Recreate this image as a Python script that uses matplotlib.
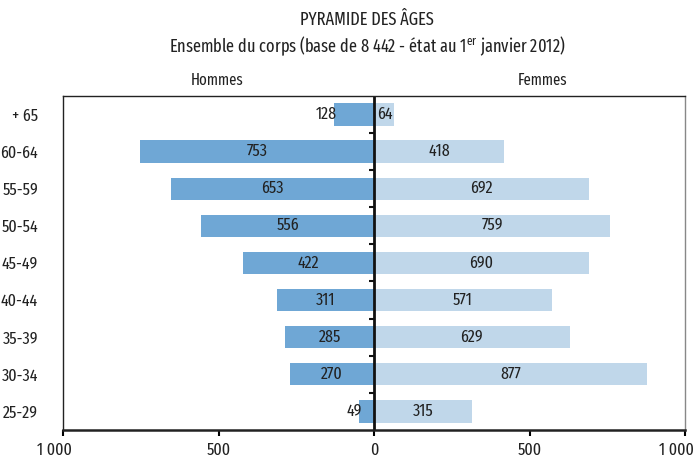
import matplotlib.pyplot as plt
from matplotlib import font_manager as fm
from matplotlib.transforms import ScaledTranslation
import numpy as np

ages = ['+ 65', '60-64', '55-59', '50-54', '45-49', '40-44', '35-39', '30-34', '25-29']
hommes = [128, 753, 653, 556, 422, 311, 285, 270, 49]
femmes = [64, 418, 692, 759, 690, 571, 629, 877, 315]
xticks = [-1000, -500, 0, 500, 1000]
xtick_labels = ['1 000', '500', '0', '500', '1 000']


def narrowness(f):
    n = f.name.replace(' ', '')
    if 'ExtraCondensed' in n or 'UltraCondensed' in n:
        return 0
    if 'Condensed' in n and 'Semi' not in n:
        return 1
    if 'Narrow' in n or f.stretch == 'condensed':
        return 2
    return 3


# pick the narrowest regular face installed
cands = [f for f in fm.fontManager.ttflist
         if f.style == 'normal' and f.weight in (400, 'normal', 'regular')
         and (f.stretch != 'normal' or 'Condensed' in f.name or 'Narrow' in f.name)]
cands.sort(key=narrowness)
if cands:
    plt.rcParams['font.family'] = [cands[0].name, 'DejaVu Sans']
    plt.rcParams['font.stretch'] = cands[0].stretch
else:
    plt.rcParams['font.family'] = ['Liberation Sans', 'DejaVu Sans']

fs = 12.5
c_h = '#6fa7d5'
c_f = '#c0d7ea'
txt = '#222222'

fig = plt.figure(figsize=(6.97, 4.59), dpi=100)
ax = fig.add_axes([0.0904, 0.0632, 0.8924, 0.728])

y = np.arange(len(ages))
ax.barh(y, [-v for v in hommes], height=0.6, color=c_h)
ax.barh(y, femmes, height=0.6, color=c_f)

for i, (h, f) in enumerate(zip(hommes, femmes)):
    if h > 150:
        ax.text(-h / 2, i, str(h), ha='center', va='center', fontsize=fs, color=txt)
    else:
        ax.annotate(str(h), (-h, i), xytext=(2, 0), textcoords='offset points',
                    ha='right', va='center', fontsize=fs, color=txt)
    if f > 150:
        ax.text(f / 2, i, str(f), ha='center', va='center', fontsize=fs, color=txt)
    else:
        ax.annotate(str(f), (0, i), xytext=(2, 0), textcoords='offset points',
                    ha='left', va='center', fontsize=fs, color=txt)

ax.axvline(0, color='#111111', lw=2)
ax.hlines(np.arange(len(ages) - 1) + 0.5, -16, 0, color='#111111', lw=1.5)

ax.set_xlim(-1000, 1000)
ax.set_ylim(len(ages) - 0.5, -0.5)
ax.set_yticks(y)
ax.set_yticklabels(ages, fontsize=fs, color=txt)
ax.tick_params(axis='y', length=0, pad=18)
ax.set_xticks(xticks)
ax.set_xticklabels(xtick_labels, fontsize=fs, color=txt)
ax.tick_params(axis='x', length=4, width=1.5, pad=5)
shift = ScaledTranslation(-9 / 100, 0, fig.dpi_scale_trans)
for lab in ax.get_xticklabels():
    if lab.get_text() == '1 000':
        lab.set_transform(lab.get_transform() + shift)
for s in ax.spines.values():
    s.set_color('#222222')
    s.set_linewidth(1)
ax.spines['bottom'].set_linewidth(1.8)
ax.spines['right'].set_color('#888888')

fig.text(0.527, 0.956, 'PYRAMIDE DES ÂGES', ha='center', va='center', fontsize=12.8, color=txt)
fig.text(0.527, 0.9, r'Ensemble du corps (base de 8 442 - état au 1$^{\mathregular{er}}$ janvier 2012)',
         ha='center', va='center', fontsize=12.8, color=txt)
fig.text(0.311, 0.825, 'Hommes', ha='center', va='center', fontsize=11.5, color=txt)
fig.text(0.778, 0.825, 'Femmes', ha='center', va='center', fontsize=11.5, color=txt)

fig.savefig('out.png', dpi=100)
